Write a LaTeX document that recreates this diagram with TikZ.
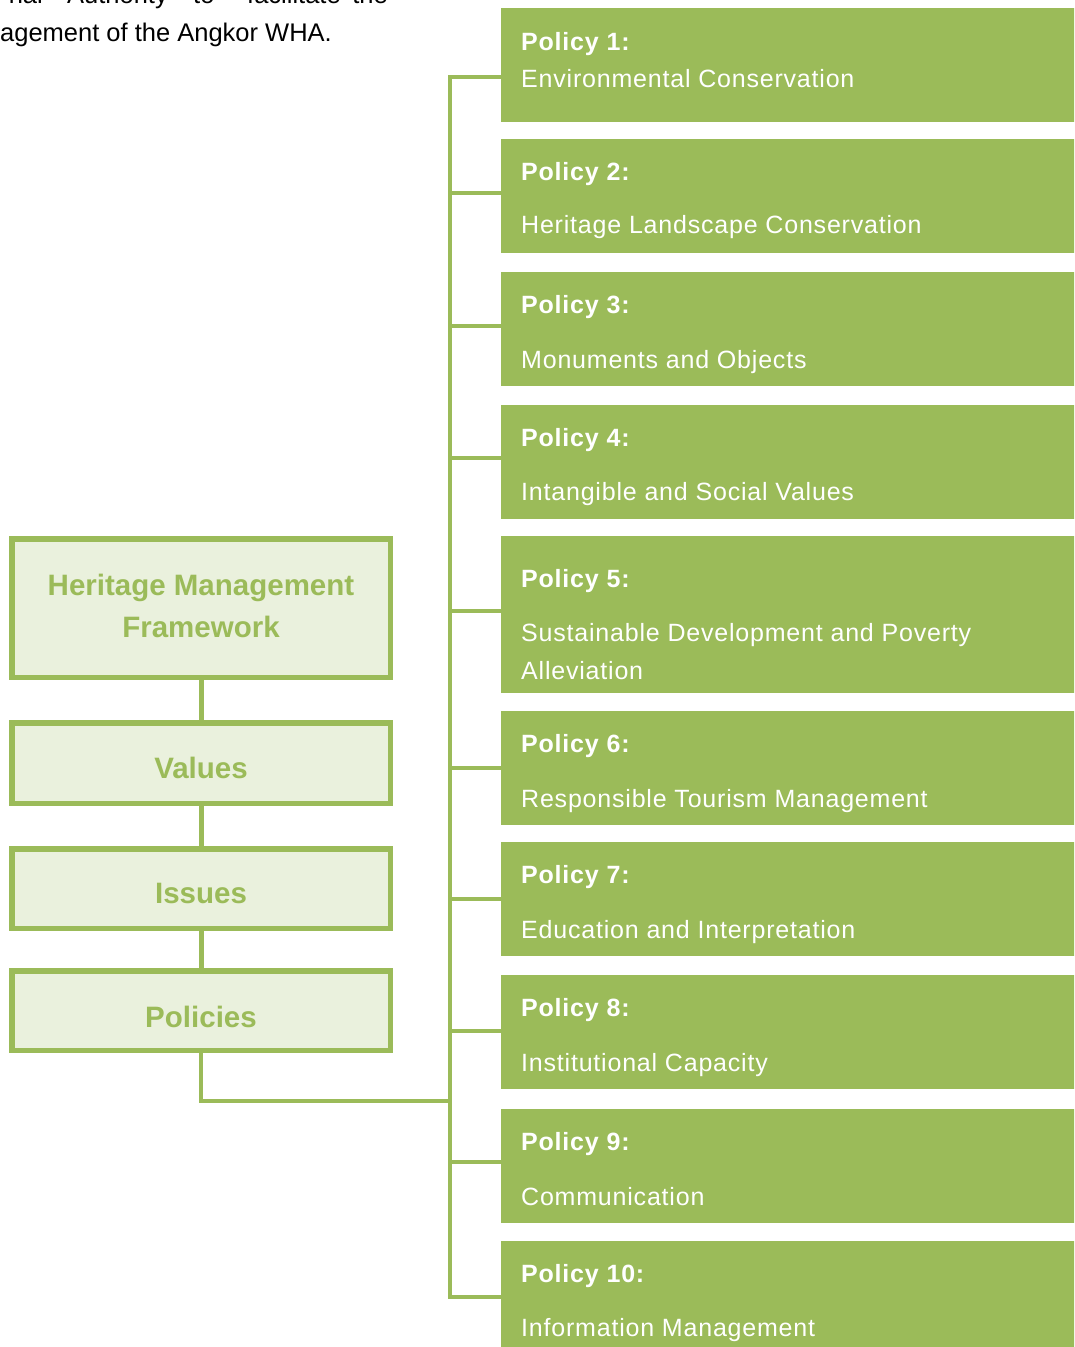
\documentclass[tikz,border=0pt]{standalone}
\usepackage{fontspec}
\setmainfont{Liberation Sans}
\newfontfamily\polfont[LetterSpace=3.2]{Liberation Sans}
\definecolor{pgreen}{HTML}{9BBB59}
\definecolor{lgreen}{HTML}{EAF1DD}
\begin{document}
\begin{tikzpicture}[x=1pt,y=-1pt,
  polbox/.style={fill=pgreen, draw=none, inner sep=0pt, outer sep=0pt, minimum width=580pt, anchor=north west},
  frame/.style={draw=pgreen, line width=5.5pt, fill=lgreen, inner sep=0pt, outer sep=0pt, minimum width=378.5pt},
  link/.style={draw=pgreen, line width=4.5pt, line join=miter},
  vlink/.style={draw=pgreen, line width=5pt},
  ptitle/.style={anchor=base west, inner sep=0pt, text=white, font=\polfont\bfseries\fontsize{25}{30}\selectfont},
  pdesc/.style={anchor=base west, inner sep=0pt, text=white, font=\polfont\fontsize{25}{30}\selectfont},
  ftext/.style={anchor=base, inner sep=0pt, text=pgreen, font=\bfseries\fontsize{29.5}{35}\selectfont},
  body/.style={inner sep=0pt, text=black, font=\fontsize{25.5}{30}\selectfont}
]
\useasboundingbox (0,0) rectangle (1074,1347);
\clip (0,0) rectangle (1074,1347);

% body text (cut-off paragraph)
\node[body, anchor=base east] (w1) at (43,3) {nal};
\node[body, anchor=base west] (w2) at (67,3) {Authority};
\node[body, anchor=base west] (w3) at (193,3) {to};
\node[body, anchor=base west] (w4) at (247,3) {facilitate};
\node[body, anchor=base east] (w5) at (388,3) {the};
\node[body, anchor=base west] (w6) at (0,41) {agement of the Angkor WHA.};

% policy boxes
\node[polbox, minimum height=114pt] (p1) at (501,8) {};
\node[polbox, minimum height=114pt] (p2) at (501,139) {};
\node[polbox, minimum height=114pt] (p3) at (501,272) {};
\node[polbox, minimum height=114pt] (p4) at (501,405) {};
\node[polbox, minimum height=157pt] (p5) at (501,536) {};
\node[polbox, minimum height=114pt] (p6) at (501,711) {};
\node[polbox, minimum height=114pt] (p7) at (501,842) {};
\node[polbox, minimum height=114pt] (p8) at (501,975) {};
\node[polbox, minimum height=114pt] (p9) at (501,1109) {};
\node[polbox, minimum height=120pt] (p10) at (501,1241) {};

% policy texts
\node[ptitle] (t1a) at (521,50) {Policy 1:};
\node[pdesc]  (t1b) at (521,87) {Environmental Conservation};
\node[ptitle] (t2a) at (521,180) {Policy 2:};
\node[pdesc]  (t2b) at (521,233) {Heritage Landscape Conservation};
\node[ptitle] (t3a) at (521,313) {Policy 3:};
\node[pdesc]  (t3b) at (521,368) {Monuments and Objects};
\node[ptitle] (t4a) at (521,446) {Policy 4:};
\node[pdesc]  (t4b) at (521,500) {Intangible and Social Values};
\node[ptitle] (t5a) at (521,587) {Policy 5:};
\node[pdesc]  (t5b) at (521,641) {Sustainable Development and Poverty};
\node[pdesc]  (t5c) at (521,679) {Alleviation};
\node[ptitle] (t6a) at (521,752) {Policy 6:};
\node[pdesc]  (t6b) at (521,807) {Responsible Tourism Management};
\node[ptitle] (t7a) at (521,883) {Policy 7:};
\node[pdesc]  (t7b) at (521,938) {Education and Interpretation};
\node[ptitle] (t8a) at (521,1016) {Policy 8:};
\node[pdesc]  (t8b) at (521,1071) {Institutional Capacity};
\node[ptitle] (t9a) at (521,1150) {Policy 9:};
\node[pdesc]  (t9b) at (521,1205) {Communication};
\node[ptitle] (t10a) at (521,1282) {Policy 10:};
\node[pdesc]  (t10b) at (521,1336) {Information Management};

% left framework boxes
\node[frame, minimum height=138.5pt] (hmf) at (201,608) {};
\node[frame, minimum height=80.5pt] (val) at (201,763) {};
\node[frame, minimum height=79.5pt] (iss) at (201,888.5) {};
\node[frame, minimum height=79.5pt] (pol) at (201,1010.5) {};
\node[ftext] (hmf1) at (201,595) {Heritage Management};
\node[ftext] (hmf2) at (201,637) {Framework};
\node[ftext] (valt) at (201,778) {Values};
\node[ftext] (isst) at (201,903) {Issues};
\node[ftext] (polt) at (201,1027) {Policies};

\draw[vlink] (hmf.south) -- (val.north);
\draw[vlink] (val.south) -- (iss.north);
\draw[vlink] (iss.south) -- (pol.north);

% trunk
\coordinate (c1) at (450,77);
\coordinate (c2) at (450,193);
\coordinate (c3) at (450,326);
\coordinate (c4) at (450,458);
\coordinate (c5) at (450,611);
\coordinate (c6) at (450,768);
\coordinate (c7) at (450,899);
\coordinate (c8) at (450,1031);
\coordinate (c9) at (450,1162);
\coordinate (c10) at (450,1297);
\coordinate (cp) at (450,1101);

\draw[link] (p1.west |- c1) -- (c1) -- (c10) -- (p10.west |- c10);
\draw[link] (c2) -- (p2.west |- c2);
\draw[link] (c3) -- (p3.west |- c3);
\draw[link] (c4) -- (p4.west |- c4);
\draw[link] (c5) -- (p5.west |- c5);
\draw[link] (c6) -- (p6.west |- c6);
\draw[link] (c7) -- (p7.west |- c7);
\draw[link] (c8) -- (p8.west |- c8);
\draw[link] (c9) -- (p9.west |- c9);
\draw[link] (pol.south) |- (cp);
\end{tikzpicture}
\end{document}
